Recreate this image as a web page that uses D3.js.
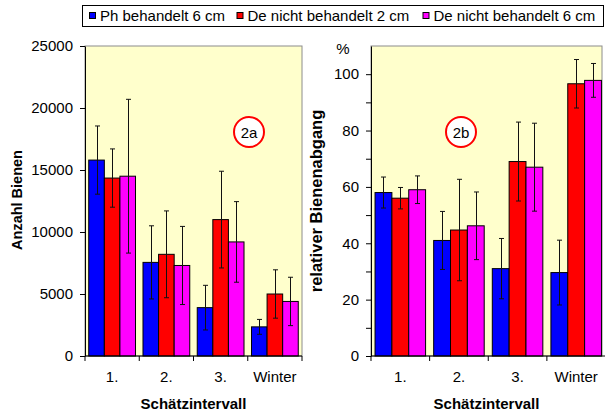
<!DOCTYPE html>
<html>
<head>
<meta charset="utf-8">
<script src="https://cdn.jsdelivr.net/npm/d3@7/dist/d3.min.js"></script>
<style>
  html, body { margin: 0; padding: 0; background: #fff; }
  svg { display: block; font-family: Arial, "Liberation Sans", sans-serif; }
</style>
</head>
<body>
<svg id="chart" width="605" height="413"></svg>
<script>
// Estimation intervals
const categories = ["1.", "2.", "3.", "Winter"];
const seriesNames = ["Ph behandelt 6 cm", "De nicht behandelt 2 cm", "De nicht behandelt 6 cm"];
const seriesColors = ["#0000FF", "#FF0000", "#FF00FF"];

// Panel 2a: number of bees (mean and standard deviation)
const beesPh6 = [15800, 7550, 3900, 2350];
const beesPh6Sd = [2750, 2950, 1800, 600];
const beesDe2 = [14350, 8200, 11000, 5000];
const beesDe2Sd = [2350, 3500, 3900, 1950];
const beesDe6 = [14500, 7300, 9200, 4400];
const beesDe6Sd = [6200, 3150, 3250, 1950];
const beesTicks = [0, 5000, 10000, 15000, 20000, 25000];

// Panel 2b: relative bee loss in % (mean and standard deviation)
const lossPh6 = [58, 41, 31, 29.6];
const lossPh6Sd = [5.5, 10.3, 10.7, 11.5];
const lossDe2 = [56, 44.7, 69, 96.6];
const lossDe2Sd = [3.8, 18, 14, 8.6];
const lossDe6 = [59, 46.2, 67, 97.8];
const lossDe6Sd = [4.9, 12, 15.6, 6];
const lossTicks = [0, 10, 20, 30, 40, 50, 60, 70, 80, 90, 100];

const svg = d3.select("#chart");

function panel(opts) {
  const g = svg.append("g");
  const x = d3.scaleBand().domain(categories).range([opts.x0, opts.x1]);
  const y = d3.scaleLinear().domain(opts.domain).range([opts.y1, opts.y0]);
  const sub = d3.scaleBand().domain(d3.range(3))
    .range([0, x.bandwidth()]).paddingInner(0).paddingOuter(0.24);

  // plot area
  g.append("rect")
    .attr("x", opts.x0).attr("y", opts.y0)
    .attr("width", opts.bgRight - opts.x0).attr("height", opts.y1 - opts.y0)
    .attr("fill", "#FFFFCC").attr("stroke", "#8c8c8c").attr("stroke-width", 1);

  const rows = [];
  opts.series.forEach((s, si) => {
    categories.forEach((c, ci) => rows.push({ c, si, v: s.v[ci], sd: s.sd[ci] }));
  });

  g.selectAll("rect.bar").data(rows).join("rect")
    .attr("class", "bar")
    .attr("x", d => x(d.c) + sub(d.si))
    .attr("y", d => y(d.v))
    .attr("width", sub.bandwidth())
    .attr("height", d => y(0) - y(d.v))
    .attr("fill", d => seriesColors[d.si])
    .attr("stroke", "#000").attr("stroke-width", 1);

  // error bars
  const eb = g.selectAll("g.err").data(rows).join("g").attr("class", "err")
    .attr("stroke", "#111").attr("stroke-width", 1);
  const cx = d => Math.round(x(d.c) + sub(d.si) + sub.bandwidth() / 2) + 0.5;
  eb.append("line").attr("x1", cx).attr("x2", cx)
    .attr("y1", d => y(d.v + d.sd)).attr("y2", d => y(d.v - d.sd));
  eb.append("line").attr("x1", d => cx(d) - 2.5).attr("x2", d => cx(d) + 2.5)
    .attr("y1", d => y(d.v + d.sd)).attr("y2", d => y(d.v + d.sd));
  eb.append("line").attr("x1", d => cx(d) - 2.5).attr("x2", d => cx(d) + 2.5)
    .attr("y1", d => y(d.v - d.sd)).attr("y2", d => y(d.v - d.sd));

  // y axis
  const ya = g.append("g").attr("transform", `translate(${opts.x0},0)`)
    .call(d3.axisLeft(y).tickValues(opts.ticks).tickFormat(opts.fmt)
      .tickSize(5).tickSizeOuter(0).tickPadding(7));
  ya.select(".domain").attr("stroke", "#000");
  ya.selectAll(".tick line").attr("stroke", "#000");
  ya.selectAll(".tick text").attr("font-size", 15).attr("fill", "#000")
    .attr("font-family", "Arial, 'Liberation Sans', sans-serif");

  // x axis with ticks at the category boundaries
  const xa = g.append("g").attr("transform", `translate(0,${opts.y1})`);
  xa.append("line").attr("x1", opts.x0).attr("x2", opts.x1)
    .attr("stroke", "#000");
  const bounds = categories.map(c => x(c)).concat([x(categories[3]) + x.bandwidth()]);
  xa.selectAll("line.xt").data(bounds).join("line").attr("class", "xt")
    .attr("x1", d => d).attr("x2", d => d).attr("y1", 0).attr("y2", 5)
    .attr("stroke", "#000");
  xa.selectAll("text").data(categories).join("text")
    .attr("x", d => x(d) + x.bandwidth() / 2).attr("y", 26)
    .attr("text-anchor", "middle").attr("font-size", 15).text(d => d);

  // axis titles
  g.append("text").attr("x", (opts.x0 + opts.bgRight) / 2).attr("y", 409)
    .attr("text-anchor", "middle").attr("font-size", 15).attr("font-weight", "bold")
    .text("Schätzintervall");
  g.append("text")
    .attr("transform", `translate(${opts.titleX},${opts.titleY}) rotate(-90)`)
    .attr("text-anchor", "middle").attr("font-size", opts.titleSize).attr("font-weight", "bold")
    .text(opts.title);

  // panel badge
  g.append("circle").attr("cx", opts.badge[0]).attr("cy", opts.badge[1]).attr("r", 15)
    .attr("fill", "#fff").attr("stroke", "#FF0000").attr("stroke-width", 2);
  g.append("text").attr("x", opts.badge[0]).attr("y", opts.badge[1] + 5.5)
    .attr("text-anchor", "middle").attr("font-size", 15).text(opts.badgeText);
  return { x, y };
}

panel({
  x0: 85, x1: 302, bgRight: 302, y0: 46, y1: 356,
  domain: [0, 25000], ticks: beesTicks, fmt: d => d,
  series: [{ v: beesPh6, sd: beesPh6Sd }, { v: beesDe2, sd: beesDe2Sd }, { v: beesDe6, sd: beesDe6Sd }],
  title: "Anzahl Bienen", titleX: 22, titleY: 200, titleSize: 14.5,
  badge: [249, 132], badgeText: "2a"
});

panel({
  x0: 371, x1: 605.5, bgRight: 602, y0: 46, y1: 356,
  domain: [0, 110], ticks: lossTicks, fmt: d => (d % 20 === 0 ? d : ""),
  series: [{ v: lossPh6, sd: lossPh6Sd }, { v: lossDe2, sd: lossDe2Sd }, { v: lossDe6, sd: lossDe6Sd }],
  title: "relativer Bienenabgang", titleX: 322, titleY: 201, titleSize: 16.5,
  badge: [461, 132], badgeText: "2b"
});

svg.append("text").attr("x", 343).attr("y", 54).attr("text-anchor", "middle")
  .attr("font-size", 15).text("%");

// legend
const lg = svg.append("g");
lg.append("rect").attr("x", 82.5).attr("y", 5.5).attr("width", 521).attr("height", 21)
  .attr("fill", "#fff").attr("stroke", "#000");
const legendX = [89, 236.5, 422.5];
seriesNames.forEach((name, i) => {
  lg.append("rect").attr("x", legendX[i] + 0.5).attr("y", 12.5).attr("width", 6).attr("height", 6)
    .attr("fill", seriesColors[i]).attr("stroke", "#000");
  lg.append("text").attr("x", legendX[i] + 11).attr("y", 21).attr("font-size", 15).text(name);
});
</script>
</body>
</html>
